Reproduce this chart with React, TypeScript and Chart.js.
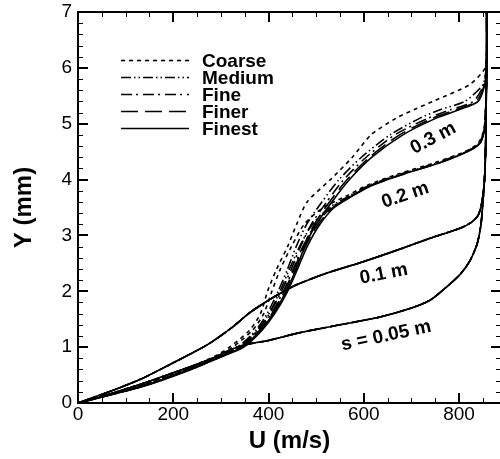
import React, { useEffect, useRef } from 'react';
import { Chart, registerables } from 'chart.js';

Chart.register(...registerables);

const FONT = "'Liberation Sans', Arial, Helvetica, sans-serif";

// Grid levels and their line patterns
const GRIDS = ['Coarse', 'Medium', 'Fine', 'Finer', 'Finest'];
const GRID_DASH: number[][] = [[4, 4], [10, 3, 1.5, 3, 1.5, 3], [11, 4, 2, 5], [17, 7], []];

// Axis ticks
const X_TICKS = [0, 200, 400, 600, 800];
const Y_TICKS = [0, 1, 2, 3, 4, 5, 6, 7];
const X_MAX = 888;
const Y_MAX = 7;

// s = 0.05 m (grid converged, same profile on every grid)
const U_S005 = [0, 50, 100, 150, 200, 271, 340, 400, 466, 550, 634, 700, 739, 770, 802, 823, 838, 846, 850, 854, 856, 857, 858, 858];
const Y_S005 = [0, 0.12, 0.25, 0.39, 0.54, 0.76, 1.02, 1.12, 1.26, 1.4, 1.54, 1.7, 1.84, 2.05, 2.3, 2.55, 2.85, 3.2, 3.6, 4.1, 4.8, 5.5, 6.3, 7.0];

// s = 0.1 m (grid converged)
const U_S01 = [0, 65, 130, 200, 271, 320, 361, 400, 430, 460, 520, 592, 661, 733, 802, 825, 840, 848, 853, 856, 857, 858, 858];
const Y_S01 = [0, 0.2, 0.42, 0.72, 1.04, 1.33, 1.62, 1.84, 1.99, 2.12, 2.32, 2.51, 2.71, 2.93, 3.13, 3.23, 3.36, 3.6, 3.95, 4.6, 5.4, 6.3, 7.0];

// s = 0.2 m
const Y_S02 = [0, 0.3, 0.6, 0.85, 1.0, 1.3, 1.6, 2.0, 2.4, 2.8, 3.2, 3.5, 3.7, 3.9, 4.1, 4.3, 4.5, 4.65, 4.9, 5.3, 6.0, 7.0];
const U_S02_COARSE = [0, 128, 226, 294, 325, 366, 390, 407, 425, 448, 475, 515, 562, 608, 672, 748, 812, 840, 852, 856, 858, 858];
const U_S02_MEDIUM = [0, 132, 232, 302, 338, 376, 401, 424, 444, 465, 492, 528, 568, 612, 678, 754, 815, 842, 853, 856, 858, 858];
const U_S02_FINE = [0, 134, 234, 304, 342, 380, 406, 431, 452, 472, 499, 532, 571, 615, 681, 757, 816, 843, 853, 856, 858, 858];
const U_S02_FINER = [0, 136, 236, 306, 345, 384, 410, 436, 457, 477, 504, 535, 573, 617, 683, 759, 817, 844, 853, 856, 858, 858];
const U_S02_FINEST = [0, 138, 238, 308, 348, 386, 413, 440, 461, 481, 508, 538, 575, 618, 685, 760, 818, 844, 853, 856, 858, 858];

// s = 0.3 m
const Y_S03 = [0, 0.3, 0.6, 0.85, 1.0, 1.3, 1.6, 2.0, 2.4, 2.8, 3.2, 3.6, 4.0, 4.4, 4.8, 5.1, 5.25, 5.4, 5.7, 6.0, 6.3, 7.0];
const U_S03_COARSE = [0, 125, 222, 290, 318, 360, 383, 398, 417, 440, 459, 481, 530, 576, 615, 668, 705, 745, 822, 855, 858, 858];
const U_S03_MEDIUM = [0, 130, 230, 300, 335, 373, 397, 420, 440, 458, 480, 512, 548, 595, 655, 718, 760, 812, 850, 857, 858, 858];
const U_S03_FINE = [0, 132, 232, 302, 338, 377, 402, 427, 448, 467, 490, 522, 558, 605, 665, 735, 782, 830, 852, 857, 858, 858];
const U_S03_FINER = [0, 134, 234, 304, 342, 381, 407, 433, 454, 473, 496, 528, 565, 612, 675, 745, 793, 836, 853, 857, 858, 858];
const U_S03_FINEST = [0, 135, 235, 305, 345, 383, 410, 437, 458, 476, 500, 533, 570, 617, 682, 752, 800, 840, 854, 857, 858, 858];

// Station labels placed along each profile
const STATION_LABELS = ['s = 0.05 m', '0.1 m', '0.2 m', '0.3 m'];
const LABEL_U = [647, 642, 687, 746];
const LABEL_Y = [1.2, 2.31, 3.72, 4.74];
const LABEL_ANGLE = [-12, -11, -19, -28];

type Profile = { u: number[]; y: number[] };

const PROFILES: Profile[][] = [
  GRIDS.map(() => ({ u: U_S005, y: Y_S005 })),
  GRIDS.map(() => ({ u: U_S01, y: Y_S01 })),
  [U_S02_COARSE, U_S02_MEDIUM, U_S02_FINE, U_S02_FINER, U_S02_FINEST].map((u) => ({ u, y: Y_S02 })),
  [U_S03_COARSE, U_S03_MEDIUM, U_S03_FINE, U_S03_FINER, U_S03_FINEST].map((u) => ({ u, y: Y_S03 })),
];

const chartDecor = {
  id: 'chartDecor',
  afterDatasetsDraw(chart: any) {
    const { ctx, chartArea: a, scales } = chart;
    const x = scales.x;
    const y = scales.y;
    ctx.save();

    // frame
    ctx.strokeStyle = '#000';
    ctx.lineWidth = 2;
    ctx.strokeRect(a.left, a.top, a.right - a.left, a.bottom - a.top);

    // inward ticks on all four sides
    const drawTick = (x0: number, y0: number, x1: number, y1: number, w: number) => {
      ctx.lineWidth = w;
      ctx.beginPath();
      ctx.moveTo(x0, y0);
      ctx.lineTo(x1, y1);
      ctx.stroke();
    };
    for (let i = 0; i * 50 <= X_MAX; i++) {
      const v = i * 50;
      const major = v % 200 === 0;
      const len = major ? 10 : 5;
      const w = major ? 2 : 1;
      const px = Math.round(x.getPixelForValue(v)) + (major ? 0 : 0.5);
      drawTick(px, a.bottom, px, a.bottom - len, w);
      drawTick(px, a.top, px, a.top + len, w);
    }
    for (let i = 0; i <= Y_MAX * 5; i++) {
      const major = i % 5 === 0;
      const len = major ? 10 : 5;
      const w = major ? 2 : 1;
      const py = Math.round(y.getPixelForValue(i / 5)) + (major ? 0 : 0.5);
      drawTick(a.left, py, a.left + len, py, w);
      drawTick(a.right, py, a.right - len, py, w);
    }

    // station labels
    ctx.fillStyle = '#000';
    ctx.font = `bold 19px ${FONT}`;
    ctx.textAlign = 'center';
    ctx.textBaseline = 'middle';
    STATION_LABELS.forEach((t, i) => {
      ctx.save();
      ctx.translate(x.getPixelForValue(LABEL_U[i]), y.getPixelForValue(LABEL_Y[i]));
      ctx.rotate((LABEL_ANGLE[i] * Math.PI) / 180);
      ctx.fillText(t, 0, 0);
      ctx.restore();
    });

    // legend
    const lx0 = a.left + 43;
    const lx1 = a.left + 111;
    const tx = a.left + 124;
    ctx.textAlign = 'left';
    GRIDS.forEach((g, i) => {
      const ly = a.top + 48.5 + i * 17;
      ctx.setLineDash(GRID_DASH[i]);
      ctx.lineWidth = 1.6;
      ctx.beginPath();
      ctx.moveTo(lx0, ly);
      ctx.lineTo(lx1, ly);
      ctx.stroke();
      ctx.setLineDash([]);
      ctx.fillText(g, tx, ly + 1);
    });

    ctx.restore();
  },
};

const noPad = (s: any) => {
  s.paddingTop = 0;
  s.paddingBottom = 0;
  s.paddingLeft = 0;
  s.paddingRight = 0;
};

export default function App() {
  const canvasRef = useRef<HTMLCanvasElement | null>(null);

  useEffect(() => {
    if (!canvasRef.current) return;
    const datasets: any[] = [];
    PROFILES.forEach((station, si) => {
      station.forEach((p, gi) => {
        datasets.push({
          label: `${STATION_LABELS[si]} ${GRIDS[gi]}`,
          data: p.u.map((u, k) => ({ x: u, y: p.y[k] })),
          showLine: true,
          borderColor: '#000',
          borderWidth: 1.6,
          borderDash: GRID_DASH[gi],
          pointRadius: 0,
          fill: false,
          tension: 0.25,
        });
      });
    });

    const chart = new Chart(canvasRef.current, {
      type: 'scatter',
      data: { datasets },
      options: {
        animation: false,
        responsive: false,
        devicePixelRatio: 1,
        layout: { autoPadding: false, padding: { left: 0, right: 9, top: 12, bottom: 0 } },
        plugins: { legend: { display: false }, tooltip: { enabled: false } },
        scales: {
          x: {
            type: 'linear',
            min: 0,
            max: X_MAX,
            grid: { display: false, drawTicks: false },
            border: { display: false },
            afterBuildTicks: (s: any) => {
              s.ticks = X_TICKS.map((v) => ({ value: v }));
            },
            afterFit: (s: any) => {
              s.height = 56;
              noPad(s);
            },
            ticks: { color: '#000', padding: 0, font: { family: FONT, size: 19 } },
            title: {
              display: true,
              text: 'U (m/s)',
              color: '#000',
              font: { family: FONT, size: 24, weight: 'bold' },
              padding: { top: 0, bottom: 3 },
            },
          },
          y: {
            type: 'linear',
            min: 0,
            max: Y_MAX,
            grid: { display: false, drawTicks: false },
            border: { display: false },
            afterBuildTicks: (s: any) => {
              s.ticks = Y_TICKS.map((v) => ({ value: v }));
            },
            afterFit: (s: any) => {
              s.width = 78;
              noPad(s);
            },
            ticks: { color: '#000', padding: 6, font: { family: FONT, size: 19 } },
            title: {
              display: true,
              text: 'Y (mm)',
              color: '#000',
              font: { family: FONT, size: 24, weight: 'bold' },
              padding: { top: 10, bottom: 0 },
            },
          },
        },
      },
      plugins: [chartDecor],
    } as any);

    return () => chart.destroy();
  }, []);

  return (
    <div style={{ position: 'absolute', left: 0, top: 0, width: 500, height: 459, overflow: 'hidden', background: '#fff' }}>
      <canvas ref={canvasRef} width={510} height={459} style={{ display: 'block' }} />
    </div>
  );
}
